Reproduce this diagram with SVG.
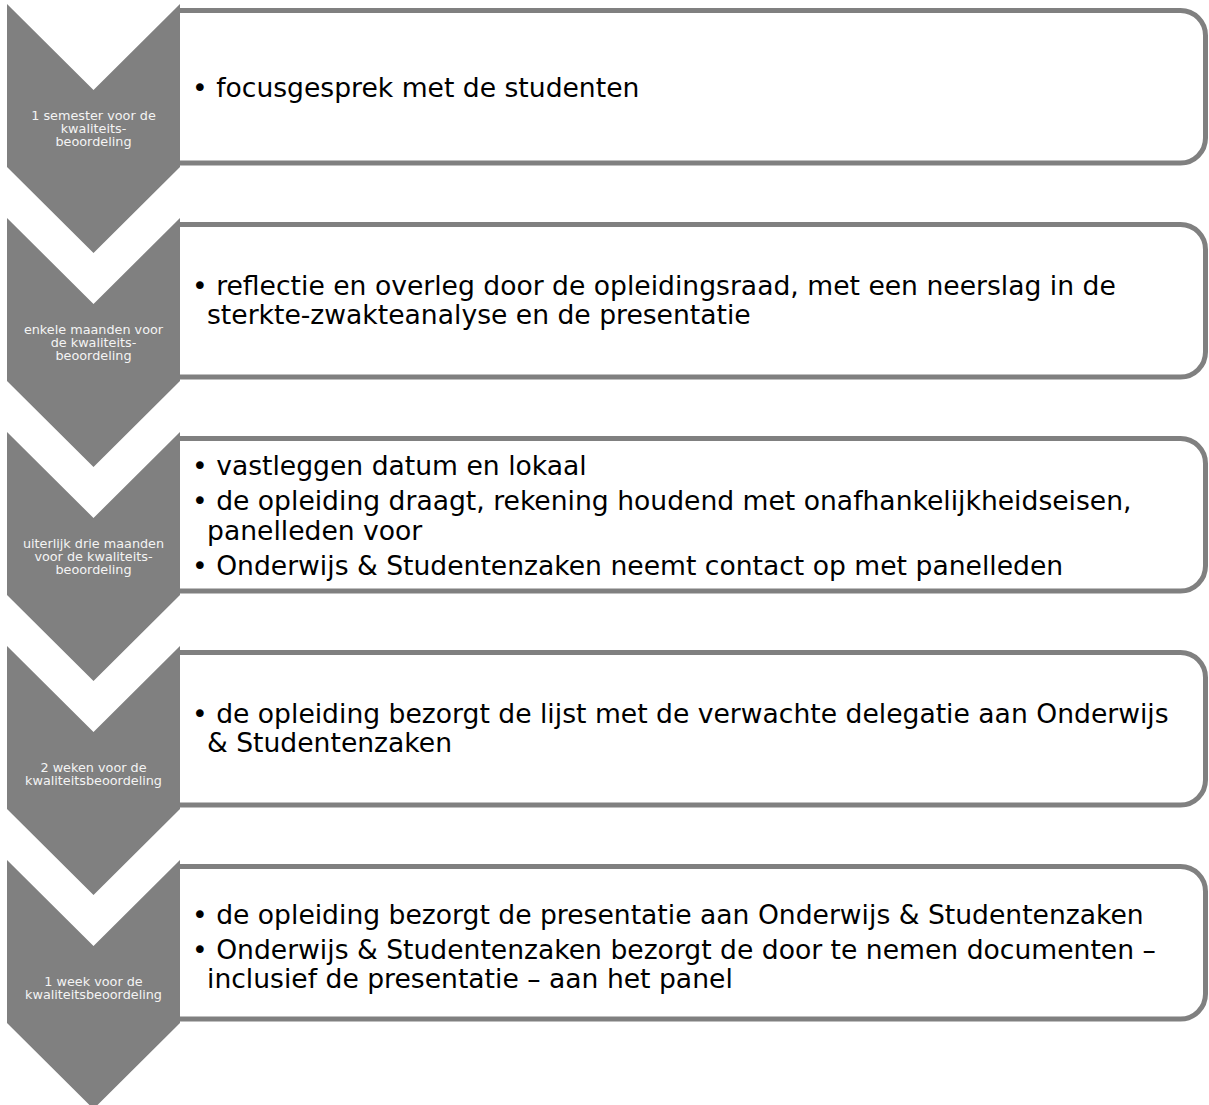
<svg xmlns="http://www.w3.org/2000/svg" width="1209" height="1105" viewBox="0 0 1209 1105">
  <style>
    .chev { fill: #808080; }
    .box { fill: #ffffff; stroke: #808080; stroke-width: 5; }
    .when { font-family: "DejaVu Sans", Verdana, sans-serif; font-size: 12.8px; fill: #f4f4f4; text-anchor: middle; }
    .what { font-family: "DejaVu Sans", Verdana, sans-serif; font-size: 26.6px; fill: #000000; }
  </style>
  <defs>
    <!-- one chevron, top edge at y=0 -->
    <path id="chevron" d="M7,0 L93.5,86 L180,0 L180,163 L93.5,249 L7,163 Z"/>
    <!-- content panel, square on the left, rounded on the right -->
    <path id="panel" d="M180,6.5 H1180.5 A25 25 0 0 1 1205.5,31.5 V134 A25 25 0 0 1 1180.5,159 H180"/>
  </defs>

  <g id="step1">
    <use href="#panel" class="box" transform="translate(0,4)"/>
    <use href="#chevron" class="chev" transform="translate(0,4)"/>
    <text class="when"><tspan x="93.5" y="120.3">1 semester voor de</tspan><tspan x="93.5" y="133.3">kwaliteits-</tspan><tspan x="93.5" y="146.3">beoordeling</tspan></text>
    <text class="what"><tspan x="192" y="96.7">• focusgesprek met de studenten</tspan></text>
  </g>

  <g id="step2">
    <use href="#panel" class="box" transform="translate(0,218)"/>
    <use href="#chevron" class="chev" transform="translate(0,218)"/>
    <text class="when"><tspan x="93.5" y="334.3">enkele maanden voor</tspan><tspan x="93.5" y="347.3">de kwaliteits-</tspan><tspan x="93.5" y="360.3">beoordeling</tspan></text>
    <text class="what"><tspan x="192" y="294.5">• reflectie en overleg door de opleidingsraad, met een neerslag in de</tspan><tspan x="207" y="324">sterkte-zwakteanalyse en de presentatie</tspan></text>
  </g>

  <g id="step3">
    <use href="#panel" class="box" transform="translate(0,432)"/>
    <use href="#chevron" class="chev" transform="translate(0,432)"/>
    <text class="when"><tspan x="93.5" y="548.3">uiterlijk drie maanden</tspan><tspan x="93.5" y="561.3">voor de kwaliteits-</tspan><tspan x="93.5" y="574.3">beoordeling</tspan></text>
    <text class="what"><tspan x="192" y="475">• vastleggen datum en lokaal</tspan><tspan x="192" y="510">• de opleiding draagt, rekening houdend met onafhankelijkheidseisen,</tspan><tspan x="207" y="539.5">panelleden voor</tspan><tspan x="192" y="574.5">• Onderwijs &amp; Studentenzaken neemt contact op met panelleden</tspan></text>
  </g>

  <g id="step4">
    <use href="#panel" class="box" transform="translate(0,646)"/>
    <use href="#chevron" class="chev" transform="translate(0,646)"/>
    <text class="when"><tspan x="93.5" y="772.3">2 weken voor de</tspan><tspan x="93.5" y="785.3">kwaliteitsbeoordeling</tspan></text>
    <text class="what"><tspan x="192" y="722.5">• de opleiding bezorgt de lijst met de verwachte delegatie aan Onderwijs</tspan><tspan x="207" y="752">&amp; Studentenzaken</tspan></text>
  </g>

  <g id="step5">
    <use href="#panel" class="box" transform="translate(0,860)"/>
    <use href="#chevron" class="chev" transform="translate(0,860)"/>
    <text class="when"><tspan x="93.5" y="986">1 week voor de</tspan><tspan x="93.5" y="999">kwaliteitsbeoordeling</tspan></text>
    <text class="what"><tspan x="192" y="923.5">• de opleiding bezorgt de presentatie aan Onderwijs &amp; Studentenzaken</tspan><tspan x="192" y="958.5">• Onderwijs &amp; Studentenzaken bezorgt de door te nemen documenten –</tspan><tspan x="207" y="988">inclusief de presentatie – aan het panel</tspan></text>
  </g>
</svg>
